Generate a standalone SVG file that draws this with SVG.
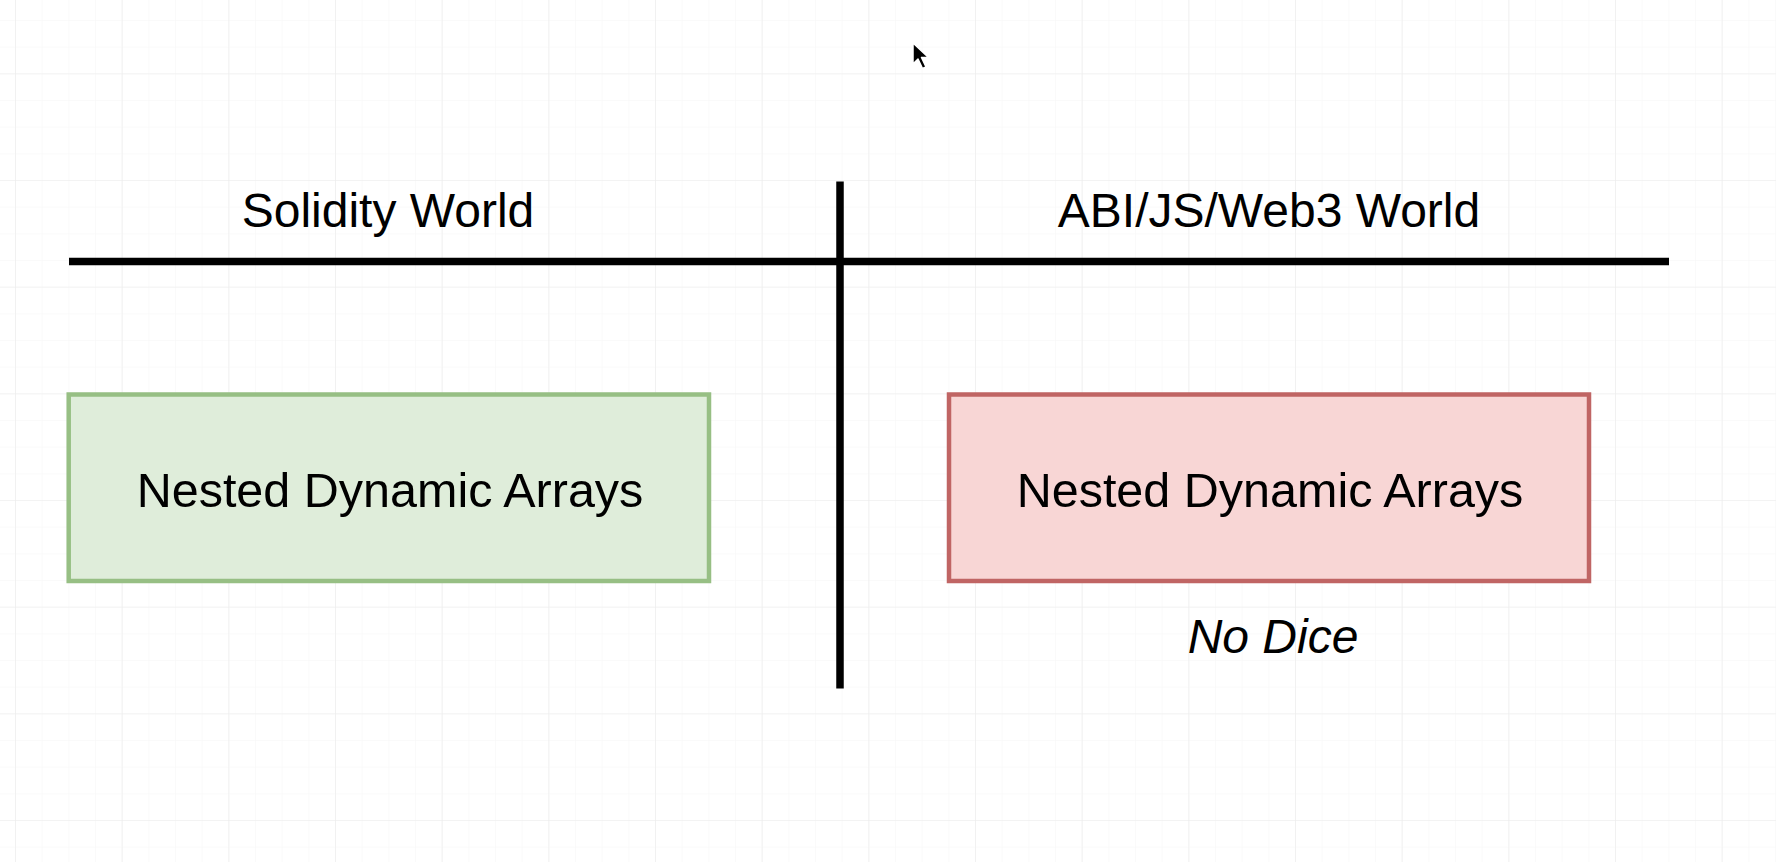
<svg xmlns="http://www.w3.org/2000/svg" width="1776" height="862" viewBox="0 0 1776 862">
  <style>
    .lbl { font-family: "Liberation Sans", Arial, Helvetica, sans-serif; font-size: 48px; fill: #000000; text-anchor: middle; }
    .box { font-size: 48.5px; }
    .it { font-style: italic; }
    .divider { stroke: #000000; stroke-width: 7.5; fill: none; }
    .green { fill: #dfedda; stroke: #97bf84; stroke-width: 4.5; }
    .red { fill: #f8d6d5; stroke: #c06564; stroke-width: 4.5; }
  </style>
  <defs>
    <pattern id="minor" x="15" y="73.33" width="26.667" height="26.667" patternUnits="userSpaceOnUse">
      <path d="M 0 0 L 26.667 0 M 0 0 L 0 26.667" stroke="#f6f6f6" stroke-width="1" fill="none"/>
    </pattern>
    <pattern id="major" x="15" y="73.33" width="106.667" height="106.667" patternUnits="userSpaceOnUse">
      <path d="M 0 0 L 106.667 0 M 0 0 L 0 106.667" stroke="#ebebeb" stroke-width="1.2" fill="none"/>
    </pattern>
  </defs>
  <rect x="0" y="0" width="1776" height="862" fill="#ffffff"/>
  <rect x="0" y="0" width="1776" height="862" fill="url(#minor)"/>
  <rect x="0" y="0" width="1776" height="862" fill="url(#major)"/>

  <g id="connectors">
    <line class="divider" x1="69" y1="261.5" x2="1669" y2="261.5"/>
    <line class="divider" x1="840" y1="181.5" x2="840" y2="688.5"/>
  </g>

  <g id="title-solidity">
    <text class="lbl" x="388" y="227">Solidity World</text>
  </g>
  <g id="title-abi">
    <text class="lbl" x="1269" y="227">ABI/JS/Web3 World</text>
  </g>

  <g id="node-solidity">
    <rect class="green" x="68.7" y="394.5" width="640.3" height="186.5"/>
    <text class="lbl box" x="390" y="507">Nested Dynamic Arrays</text>
  </g>

  <g id="node-abi">
    <rect class="red" x="949" y="394.5" width="640" height="186.5"/>
    <text class="lbl box" x="1270" y="507">Nested Dynamic Arrays</text>
  </g>

  <g id="note-nodice">
    <text class="lbl it" x="1273" y="653">No Dice</text>
  </g>

  <g id="cursor">
    <polygon points="913,43 913,64 918,59 922.5,68.5 926,67 921.5,57.5 928.5,57.5" fill="#000000" stroke="#ffffff" stroke-width="1.5" stroke-linejoin="round"/>
  </g>
</svg>
